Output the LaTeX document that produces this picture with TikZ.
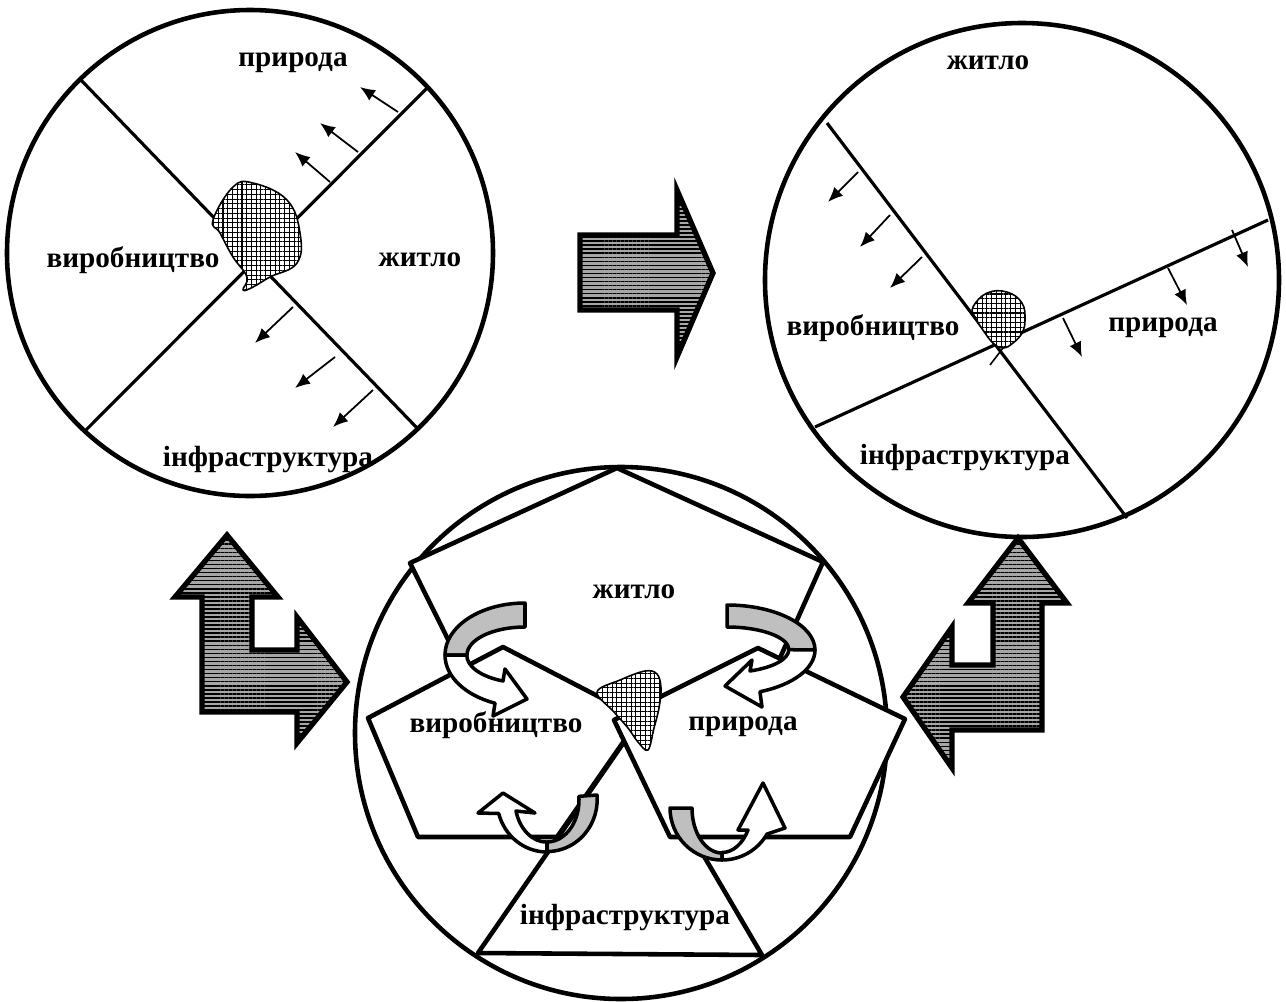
\documentclass[tikz,border=0pt]{standalone}
\usepackage{fontspec}
\setmainfont{Liberation Serif}
\usetikzlibrary{arrows.meta,patterns.meta}

\begin{document}
\begin{tikzpicture}[x=0.2mm, y=-0.2mm, >={Latex[length=3mm,width=2.5mm]}, line join=round]
	\tikzstyle{rim}=[line width=2.6pt]
	\tikzstyle{split}=[line width=1.8pt]
	\tikzstyle{drift}=[->, line width=1pt]
	\tikzstyle{hatch}=[line width=0.9pt, preaction={fill=white}, pattern={Hatch[distance=2.7pt, line width=0.6pt]}]
	\tikzstyle{bigarrow}=[line width=3pt, line join=miter, preaction={fill=black!35}, pattern={Lines[distance=2.3pt, line width=0.9pt]}, pattern color=black]
	\tikzstyle{band}=[line width=2pt, fill=black!25]
	\tikzstyle{ribbon}=[line width=2pt, fill=white]
	\tikzstyle{word}=[font=\fontsize{16.6}{20}\selectfont\bfseries]
	\useasboundingbox (0,0) rectangle (1286,1001);

	% old state
	\draw[rim] (250,253) circle[radius=243];
	\draw[split] (80,79) -- (418,429);
	\draw[split] (428,87) -- (85,431);
	\foreach \xa/\ya/\xb/\yb in {398/112/360/87, 358/152/320/123, 330/182/295/152,
		293/307/255/343, 335/357/295/388, 373/390/333/427}
		\draw[drift] (\xa,\ya) -- (\xb,\yb);
	\draw[hatch] plot[smooth cycle, tension=0.7] coordinates {(213,220) (233,187) (253,183) (287,200) (300,233) (297,263) (270,277) (253,287) (243,290) (247,277) (233,257) (220,233)};
	\node[word] (pr1) at (293,63)  {природа};
	\node[word] (vy1) at (133,260) {виробництво};
	\node[word] (zh1) at (420,260) {житло};
	\node[word] (in1) at (268,460) {інфраструктура};

	% new state
	\draw[rim] (1022,280) circle[radius=257];
	\draw[split] (827,123) -- (1127,518);
	\draw[split] (815,427) -- (1268,220);
	\foreach \xa/\ya/\xb/\yb in {858/172/828/202, 890/215/860/247, 922/257/890/288,
		1232/230/1248/267, 1168/268/1187/305, 1063/318/1082/357}
		\draw[drift] (\xa,\ya) -- (\xb,\yb);
	\draw[hatch] plot[smooth cycle, tension=0.7] coordinates {(973,307) (987,293) (1007,292) (1022,303) (1025,320) (1022,333) (1013,343) (1003,348) (993,343) (983,330) (975,317)};
	\draw[line width=0.9pt] (1003,348) -- (990,365);
	\node[word] (zh2) at (988,63)  {житло};
	\node[word] (vy2) at (873,328) {виробництво};
	\node[word] (pr2) at (1163,328) {природа};
	\node[word] (in2) at (965,458) {інфраструктура};

	% block arrows
	\draw[bigarrow] (580,235) -- (677,235) -- (677,190) -- (713,273) -- (677,357) -- (677,310) -- (580,310) -- cycle;
	\draw[bigarrow] (227,535) -- (278,597) -- (252,597) -- (252,650) -- (297,650) -- (297,617) -- (347,682) -- (297,743) -- (297,712) -- (202,712) -- (202,597) -- (175,597) -- cycle;
	\draw[bigarrow] (1018,538) -- (1067,603) -- (1042,603) -- (1042,730) -- (952,730) -- (952,768) -- (903,697) -- (952,627) -- (952,665) -- (993,665) -- (993,603) -- (968,603) -- cycle;

	% balanced state
	\draw[rim] (621,733) circle[radius=266];
	\draw[rim, fill=white] (617,468) -- (823,562) -- (758,707) -- (502,748) -- (410,563) -- cycle;
	\draw[rim, fill=white] (631,732) -- (762,955) -- (478,953) -- cycle;
	\draw[rim, fill=white] (503,647) -- (640,718) -- (557,837) -- (418,837) -- (368,718) -- cycle;
	\draw[rim, fill=white] (758,648) -- (905,719) -- (850,837) -- (670,837) -- (614,720) -- cycle;
	\draw[hatch] plot[smooth cycle, tension=0.6] coordinates {(597,692) (620,680) (645,671) (657,674) (661,688) (659,708) (654,728) (648,750) (638,742) (628,728) (614,712)};

	% curls
	\draw[band] (525,603) arc[start angle=-90, end angle=-180, x radius=80, y radius=52] -- (467,655) arc[start angle=180, end angle=270, x radius=58, y radius=28] -- cycle;
	\draw[ribbon] (445,655) arc[start angle=180, end angle=112, x radius=80, y radius=52] -- (493,716) -- (527,699) -- (505,669) -- (503,681) arc[start angle=112, end angle=180, x radius=58, y radius=28] -- cycle;
	\draw[band] (727,605) arc[start angle=-90, end angle=0, x radius=88, y radius=45] -- (789,650) arc[start angle=0, end angle=-90, x radius=62, y radius=23] -- cycle;
	\draw[ribbon] (815,650) arc[start angle=0, end angle=68, x radius=88, y radius=45] -- (762,707) -- (725,686) -- (752,660) -- (750,671) arc[start angle=68, end angle=0, x radius=62, y radius=23] -- cycle;
	\draw[band] (597,795) arc[start angle=-5, end angle=90, x radius=50, y radius=52] -- (547,842) arc[start angle=90, end angle=-5, x radius=32, y radius=42] -- cycle;
	\draw[ribbon] (547,852) arc[start angle=90, end angle=165, x radius=50, y radius=52] -- (478,813) -- (503,793) -- (535,813) -- (516,811) arc[start angle=165, end angle=90, x radius=32, y radius=42] -- cycle;
	\draw[band] (670,808) arc[start angle=180, end angle=90, x radius=52, y radius=52] -- (722,853) arc[start angle=90, end angle=180, x radius=30, y radius=45] -- cycle;
	\draw[ribbon] (722,860) arc[start angle=90, end angle=30, x radius=52, y radius=52] -- (785,828) -- (763,783) -- (738,830) -- (748,830) arc[start angle=30, end angle=90, x radius=30, y radius=45] -- cycle;

	\node[word] (zh3) at (634,592) {житло};
	\node[word] (vy3) at (496,725) {виробництво};
	\node[word] (pr3) at (743,727) {природа};
	\node[word] (in3) at (625,918) {інфраструктура};
\end{tikzpicture}
\end{document}
